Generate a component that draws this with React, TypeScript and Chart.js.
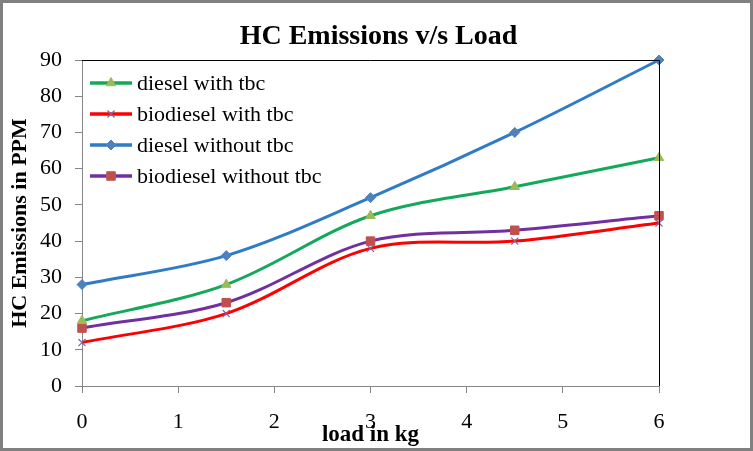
import React, { useEffect, useRef } from "react";
import { Chart, registerables } from "chart.js";
import { drawPoint } from "chart.js/helpers";
Chart.register(...registerables);

const loads = [0, 1.5, 3, 4.5, 6];
const dieselWithTbc = [18, 28, 47, 55, 63];
const biodieselWithTbc = [12, 20, 38, 40, 45];
const dieselWithoutTbc = [28, 36, 52, 70, 90];
const biodieselWithoutTbc = [16, 23, 40, 43, 47];
const seriesNames = ["diesel with tbc", "biodiesel with tbc", "diesel without tbc", "biodiesel without tbc"];
const chartTitle = "HC Emissions v/s Load";
const xTitle = "load in kg";
const yTitle = "HC Emissions in PPM";

const SERIF = "'Liberation Serif', 'Times New Roman', serif";

const framePlugin = {
  id: "frame",
  beforeDraw(chart: any) {
    const { ctx, width, height } = chart;
    ctx.save();
    ctx.fillStyle = "#ffffff";
    ctx.fillRect(0, 0, width, height);
    ctx.restore();
  },
  afterDraw(chart: any) {
    const { ctx, width, height, chartArea } = chart;
    ctx.save();
    ctx.strokeStyle = "#000000";
    ctx.lineWidth = 1;
    ctx.beginPath();
    ctx.moveTo(chartArea.left, Math.round(chartArea.top) + 0.5);
    ctx.lineTo(Math.round(chartArea.right) + 0.5, Math.round(chartArea.top) + 0.5);
    ctx.lineTo(Math.round(chartArea.right) + 0.5, chartArea.bottom);
    ctx.stroke();
    ctx.strokeStyle = "#808080";
    ctx.lineWidth = 3;
    ctx.strokeRect(1.5, 1.5, width - 3, height - 3);
    ctx.restore();
  },
};

const legendPlugin = {
  id: "insideLegend",
  afterDraw(chart: any) {
    const { ctx, chartArea } = chart;
    const x0 = chartArea.left + 8;
    const y0 = chartArea.top + 23;
    chart.data.datasets.forEach((ds: any, i: number) => {
      const y = y0 + i * 31;
      ctx.save();
      ctx.strokeStyle = ds.borderColor;
      ctx.lineWidth = 3.5;
      ctx.beginPath();
      ctx.moveTo(x0, y);
      ctx.lineTo(x0 + 42, y);
      ctx.stroke();
      ctx.fillStyle = ds.pointBackgroundColor;
      ctx.strokeStyle = ds.pointBorderColor;
      ctx.lineWidth = ds.pointBorderWidth;
      drawPoint(ctx, { pointStyle: ds.pointStyle, radius: ds.pointRadius, borderWidth: ds.pointBorderWidth, rotation: 0 }, x0 + 21, y);
      ctx.fillStyle = "#000000";
      ctx.font = "22px " + SERIF;
      ctx.textBaseline = "middle";
      ctx.textAlign = "left";
      ctx.fillText(ds.label, x0 + 47, y + 1);
      ctx.restore();
    });
  },
};

function toPoints(values: number[]) {
  return values.map((v, i) => ({ x: loads[i], y: v }));
}

export default function App() {
  const ref = useRef<HTMLCanvasElement | null>(null);
  useEffect(() => {
    document.body.style.margin = "0";
    const canvas = ref.current!;
    const common = { borderWidth: 3, tension: 0.33, fill: false, clip: false as any };
    const chart = new Chart(canvas, {
      type: "line",
      data: {
        datasets: [
          {
            ...common,
            label: seriesNames[0],
            data: toPoints(dieselWithTbc),
            borderColor: "#13A85A",
            pointStyle: "triangle",
            pointRadius: 5.5,
            pointBackgroundColor: "#9BBB59",
            pointBorderColor: "#9BBB59",
            pointBorderWidth: 1,
          },
          {
            ...common,
            label: seriesNames[1],
            data: toPoints(biodieselWithTbc),
            borderColor: "#FF0000",
            pointStyle: "crossRot",
            pointRadius: 5,
            pointBackgroundColor: "#8064A2",
            pointBorderColor: "#8064A2",
            pointBorderWidth: 1.2,
          },
          {
            ...common,
            label: seriesNames[2],
            data: toPoints(dieselWithoutTbc),
            borderColor: "#2F7BC6",
            pointStyle: "rectRot",
            pointRadius: 5,
            pointBackgroundColor: "#4F81BD",
            pointBorderColor: "#4F81BD",
            pointBorderWidth: 1,
          },
          {
            ...common,
            label: seriesNames[3],
            data: toPoints(biodieselWithoutTbc),
            borderColor: "#7030A0",
            pointStyle: "rect",
            pointRadius: 6,
            pointBackgroundColor: "#C0504D",
            pointBorderColor: "#C0504D",
            pointBorderWidth: 1,
          },
        ],
      },
      options: {
        responsive: false,
        animation: false,
        devicePixelRatio: 1,
        layout: { padding: { left: 4, right: 0, top: 0, bottom: 0 } },
        plugins: {
          legend: { display: false },
          tooltip: { enabled: false },
          title: {
            display: true,
            text: chartTitle,
            color: "#000000",
            font: { family: SERIF, size: 28, weight: "bold", lineHeight: 1 },
            padding: { top: 23, bottom: 9 },
          },
        },
        scales: {
          x: {
            type: "linear",
            min: 0,
            max: 6,
            afterFit: (s: any) => { s.height = 65; },
            ticks: { stepSize: 1, color: "#000000", padding: 16, font: { family: SERIF, size: 22 } },
            grid: { display: true, drawOnChartArea: false, tickLength: 7, color: "#868686" },
            border: { display: true, color: "#868686", width: 1 },
            title: {
              display: true,
              text: xTitle,
              color: "#000000",
              font: { family: SERIF, size: 23, weight: "bold", lineHeight: 1 },
              padding: { top: 0, bottom: 4.5 },
            },
          },
          y: {
            min: 0,
            max: 90,
            afterFit: (s: any) => { s.width = 78; },
            ticks: { stepSize: 10, color: "#000000", padding: 13, font: { family: SERIF, size: 22 } },
            grid: { display: true, drawOnChartArea: false, tickLength: 7, color: "#868686" },
            border: { display: true, color: "#868686", width: 1 },
            title: {
              display: true,
              text: yTitle,
              color: "#000000",
              font: { family: SERIF, size: 22, weight: "bold", lineHeight: 1 },
              padding: { top: 5, bottom: 0 },
            },
          },
          spacer: {
            type: "linear",
            position: "right",
            display: true,
            afterFit: (s: any) => { s.width = 94; },
            ticks: { display: false },
            grid: { display: false },
            border: { display: false },
          },
        },
      },
      plugins: [framePlugin, legendPlugin],
    });
    return () => chart.destroy();
  }, []);
  return (
    <div style={{ position: "absolute", left: 0, top: 0, width: 753, height: 451 }}>
      <canvas ref={ref} width={753} height={451} style={{ width: 753, height: 451, display: "block" }} />
    </div>
  );
}
